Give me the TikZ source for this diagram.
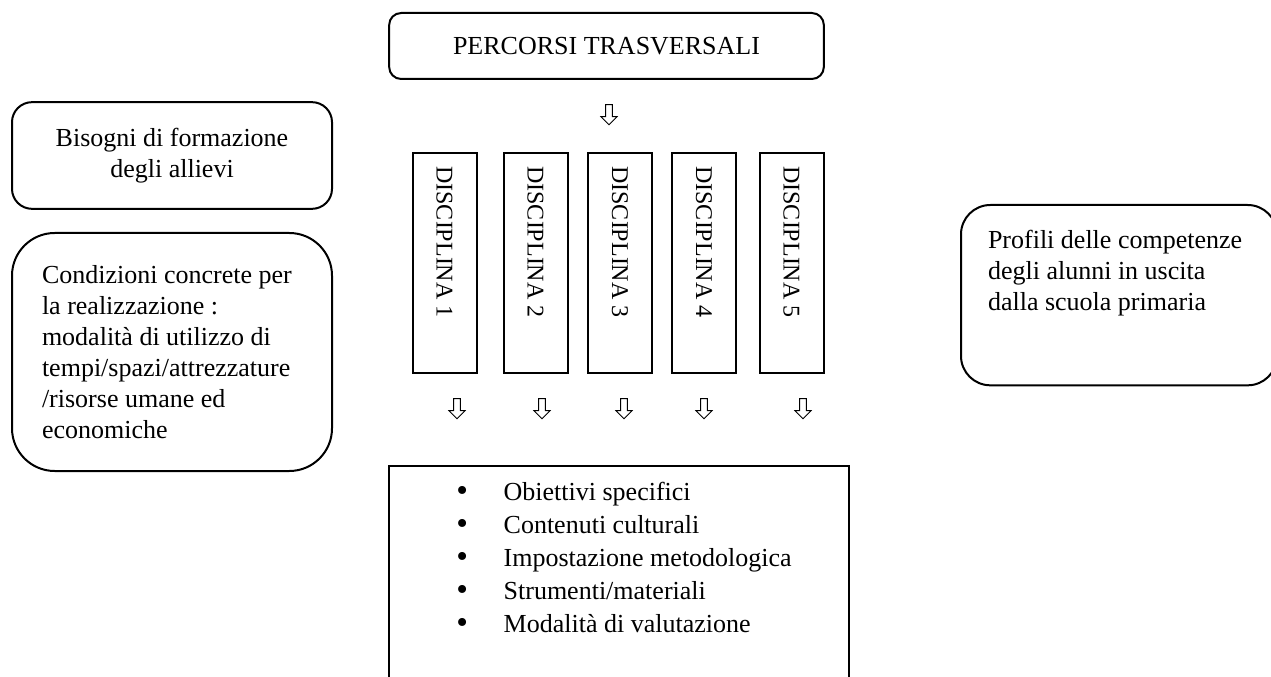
\documentclass[tikz,border=0pt]{standalone}
\usepackage{fontspec}
\setmainfont{Liberation Serif}
\usetikzlibrary{shapes.arrows,positioning}
\tikzset{
	box/.style={draw, line width=1.5pt, inner sep=0pt, align=center},
	rbox/.style={box, rounded corners=#1},
	disc/.style={box, rotate=-90, minimum width=165pt, minimum height=48pt,
		inner xsep=10pt, text width=145pt, align=flush left,
		font=\fontsize{18}{22}\selectfont},
	darrow/.style={single arrow, draw, line width=0.7pt, shape border rotate=270,
		minimum height=15pt, inner sep=2.2pt, single arrow head extend=3.5pt},
	lista/.style={box, align=flush left, inner xsep=30pt, inner ysep=12pt, text width=285pt}
}
\newcommand{\voce}[1]{\hspace*{20.5pt}\makebox[35.5pt][l]{\raisebox{-1pt}{\fontsize{25}{25}\selectfont\textbullet}}#1}
\begin{document}
\begin{tikzpicture}[x=0.75pt, y=-0.75pt, font=\fontsize{19.5}{23.25}\selectfont]
  \useasboundingbox (0,0) rectangle (1271,677);
  \clip (0,0) rectangle (1271,677);
  % in alto
  \node[rbox=9pt, minimum width=326pt, minimum height=49.5pt] (perc) at (606.5,46) {PERCORSI TRASVERSALI};
  \node[darrow] (fperc) at (609,113) {};
  % a sinistra
  \node[rbox=15pt, minimum width=240pt, minimum height=80pt] (bis) at (172,155.5)
        {Bisogni di formazione\\degli allievi};
  \node[rbox=32pt, minimum width=240pt, minimum height=178.5pt, align=flush left,
        inner xsep=22.5pt, text width=195pt] (cond) at (172,352)
        {Condizioni concrete per\\la realizzazione :\\modalità di utilizzo di\\tempi/spazi/attrezzature\\/risorse umane ed\\economiche};
  % discipline
  \foreach \n/\x/\ax in {1/444.5/457, 2/535.5/542, 3/620/624, 4/704/704, 5/791.5/803} {
    \node[disc] (disc\n) at (\x,263) {DISCIPLINA \n};
    \node[darrow] (fdisc\n) at (\ax,407) {};
  }
  % in basso
  \node[lista, anchor=north, text depth=184pt] (ob) at (619,465)
        {\voce{Obiettivi specifici}\\[1.5pt]\voce{Contenuti culturali}\\[1.5pt]\voce{Impostazione metodologica}\\[1.5pt]\voce{Strumenti/materiali}\\[1.5pt]\voce{Modalità di valutazione}};
  % a destra
  \node[rbox=22pt, anchor=north west, align=flush left, inner xsep=20.25pt, inner ysep=18.75pt,
        text width=196.5pt, text depth=84pt] (prof) at (960,204)
        {Profili delle competenze\\degli alunni in uscita\\dalla scuola primaria};
\end{tikzpicture}
\end{document}
